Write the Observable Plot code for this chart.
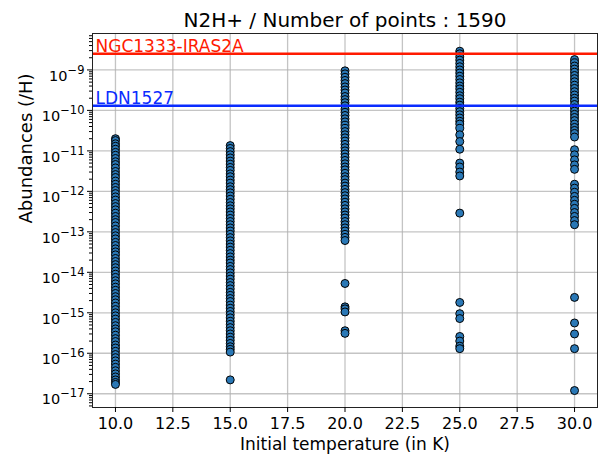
<!DOCTYPE html>
<html><head><meta charset="utf-8">
<script src="https://cdn.jsdelivr.net/npm/d3@7"></script>
<script src="https://cdn.jsdelivr.net/npm/@observablehq/plot@0.6"></script>
<style>body{margin:0;background:#fff} svg{display:block}</style>
</head><body><div id="chart"></div>
<script>
const title = "N2H+ / Number of points : 1590";
const xLabel = "Initial temperature (in K)";
const yLabel = "Abundances (/H)";
const temperatures = [10, 15, 20, 25, 30];
const abund10 = [2.0e-11,1.8e-11,1.5e-11,1.3e-11,1.1e-11,9.2e-12,7.8e-12,6.5e-12,5.4e-12,4.6e-12,3.8e-12,3.1e-12,2.6e-12,2.2e-12,1.8e-12,1.5e-12,1.25e-12,1.05e-12,8.8e-13,7.3e-13,6.1e-13,5.0e-13,4.2e-13,3.5e-13,2.9e-13,2.4e-13,2.0e-13,1.7e-13,1.4e-13,1.15e-13,9.6e-14,8.0e-14,6.7e-14,5.5e-14,4.6e-14,3.8e-14,3.2e-14,2.7e-14,2.2e-14,1.85e-14,1.55e-14,1.3e-14,1.08e-14,9.0e-15,7.5e-15,6.2e-15,5.2e-15,4.3e-15,3.6e-15,3.0e-15,2.5e-15,2.1e-15,1.75e-15,1.45e-15,1.2e-15,1.0e-15,8.4e-16,7.0e-16,5.8e-16,4.8e-16,4.0e-16,3.4e-16,2.8e-16,2.3e-16,1.95e-16,1.6e-16,1.35e-16,1.12e-16,9.3e-17,7.8e-17,6.5e-17,5.4e-17,4.5e-17,3.7e-17,3.1e-17,2.6e-17,2.2e-17,1.9e-17,1.7e-17];
const abund15 = [1.35e-11,1.15e-11,9.6e-12,8.0e-12,6.7e-12,5.6e-12,4.7e-12,3.9e-12,3.3e-12,2.7e-12,2.3e-12,1.9e-12,1.6e-12,1.3e-12,1.1e-12,9.2e-13,7.7e-13,6.4e-13,5.3e-13,4.4e-13,3.7e-13,3.1e-13,2.6e-13,2.15e-13,1.8e-13,1.5e-13,1.25e-13,1.05e-13,8.7e-14,7.2e-14,6.0e-14,5.0e-14,4.2e-14,3.5e-14,2.9e-14,2.4e-14,2.0e-14,1.7e-14,1.4e-14,1.17e-14,9.7e-15,8.1e-15,6.8e-15,5.6e-15,4.7e-15,3.9e-15,3.2e-15,2.7e-15,2.25e-15,1.9e-15,1.55e-15,1.3e-15,1.08e-15,9.0e-16,7.5e-16,6.2e-16,5.2e-16,4.3e-16,3.6e-16,3.0e-16,2.5e-16,2.1e-16,1.75e-16,1.45e-16,1.25e-16,1.07e-16,2.2e-17];
const abund20 = [9.5e-10,8.0e-10,6.6e-10,5.5e-10,4.6e-10,3.8e-10,3.2e-10,2.7e-10,2.2e-10,1.85e-10,1.55e-10,1.3e-10,1.08e-10,9.0e-11,7.5e-11,6.2e-11,5.2e-11,4.3e-11,3.6e-11,3.0e-11,2.5e-11,2.1e-11,1.75e-11,1.45e-11,1.2e-11,1.0e-11,8.4e-12,7.0e-12,5.8e-12,4.8e-12,4.0e-12,3.4e-12,2.8e-12,2.3e-12,1.95e-12,1.6e-12,1.35e-12,1.12e-12,9.3e-13,7.8e-13,6.5e-13,5.4e-13,4.5e-13,3.7e-13,3.1e-13,2.6e-13,2.2e-13,1.8e-13,1.5e-13,1.25e-13,1.05e-13,8.7e-14,7.3e-14,6.1e-14,5.3e-15,1.4e-15,1.25e-15,1.05e-15,3.6e-16,3.1e-16];
const abund25 = [2.9e-9,2.5e-9,2.1e-9,1.75e-9,1.45e-9,1.2e-9,1.0e-9,8.4e-10,7.0e-10,5.8e-10,4.8e-10,4.0e-10,3.4e-10,2.8e-10,2.3e-10,1.95e-10,1.6e-10,1.35e-10,1.12e-10,9.3e-11,7.8e-11,6.5e-11,5.4e-11,4.6e-11,3.6e-11,2.5e-11,1.7e-11,1.1e-11,5.0e-12,4.0e-12,3.0e-12,2.4e-12,2.9e-13,1.8e-15,9.5e-16,7.2e-16,2.6e-16,2.0e-16,1.5e-16,1.3e-16];
const abund30 = [1.8e-9,1.5e-9,1.25e-9,1.05e-9,8.8e-10,7.3e-10,6.1e-10,5.1e-10,4.2e-10,3.5e-10,2.9e-10,2.4e-10,2.0e-10,1.7e-10,1.4e-10,1.15e-10,9.6e-11,8.0e-11,6.7e-11,5.6e-11,4.6e-11,3.8e-11,3.2e-11,2.7e-11,2.2e-11,1.07e-11,8.0e-12,6.0e-12,4.5e-12,3.5e-12,1.5e-12,1.2e-12,9.5e-13,7.5e-13,6.0e-13,4.8e-13,3.8e-13,3.0e-13,2.4e-13,1.9e-13,1.5e-13,2.4e-15,5.6e-16,3.0e-16,1.3e-16,1.2e-17];
const refNames = ["NGC1333-IRAS2A", "LDN1527"];
const refValues = [2.5e-9, 1.3e-10];
const refColors = ["#ff1a00", "#0a2cff"];
const xTicks = [10, 12.5, 15, 17.5, 20, 22.5, 25, 27.5, 30];
const yTicks = [1e-17, 1e-16, 1e-15, 1e-14, 1e-13, 1e-12, 1e-11, 1e-10, 1e-9];

const series = [abund10, abund15, abund20, abund25, abund30];
const points = [];
series.forEach((arr, i) => arr.forEach(v => points.push({T: temperatures[i], A: v})));
const yMinor = [];
for (let e = -18; e <= -8; e++) for (let m = 2; m <= 9; m++) {
  const v = m * Math.pow(10, e);
  if (v > 10 ** -17.34 && v < 10 ** -8.1) yMinor.push(v);
}

const chart = Plot.plot({
  width: 600, height: 455,
  marginLeft: 92, marginRight: 3, marginTop: 33, marginBottom: 48,
  style: {fontFamily: "'DejaVu Sans', sans-serif", fontSize: "16px", background: "#fff", color: "#000"},
  x: {domain: [9, 31]},
  y: {type: "log", domain: [10 ** -17.34, 10 ** -8.1]},
  marks: [
    Plot.gridX(xTicks, {stroke: "#b0b0b0", strokeOpacity: 0.75, strokeWidth: 1.3}),
    Plot.gridY(yTicks, {stroke: "#b0b0b0", strokeOpacity: 0.75, strokeWidth: 1.3}),
    Plot.dot(points, {x: "T", y: "A", r: 4, fill: "#2a78b6", stroke: "#000", strokeWidth: 1}),
    ...refNames.map((n, i) => Plot.ruleY([refValues[i]], {stroke: refColors[i], strokeWidth: 2.4})),
    ...refNames.map((n, i) => Plot.text([n], {y: () => refValues[i], frameAnchor: "left", textAnchor: "start", lineAnchor: "bottom", dx: 3, dy: -2, fill: refColors[i], fontSize: 17})),
    Plot.frame({stroke: "#222", strokeWidth: 1}),
    Plot.axisX(xTicks, {tickFormat: d3.format(".1f"), tickSize: 5, tickPadding: 5, label: null, fontSize: 16}),
    Plot.axisY(yTicks, {tickFormat: d => String(Math.round(Math.log10(d))), tickSize: 5, tickPadding: 3, label: null, fontSize: 14.5}),
    Plot.axisY(yMinor, {tickFormat: () => "", tickSize: 3, label: null}),
    Plot.text([title], {frameAnchor: "top", lineAnchor: "middle", dy: -13, fontSize: 20}),
    Plot.text([xLabel], {frameAnchor: "bottom", lineAnchor: "middle", dy: 37, fontSize: 17}),
    Plot.text([yLabel], {frameAnchor: "left", rotate: -90, dx: -66, dy: 3, fontSize: 18})
  ]
});
d3.select(chart).selectAll('g[aria-label="y-axis tick label"] text').each(function() {
  const t = this.textContent;
  if (!t) return;
  this.textContent = "10";
  d3.select(this).attr("dy", "0.42em");
  d3.select(this).append("tspan").attr("dy", "-7").attr("font-size", "11.5px").text(t.replace("-", "\u2212"));
});
document.getElementById("chart").appendChild(chart);
</script>
</body></html>
